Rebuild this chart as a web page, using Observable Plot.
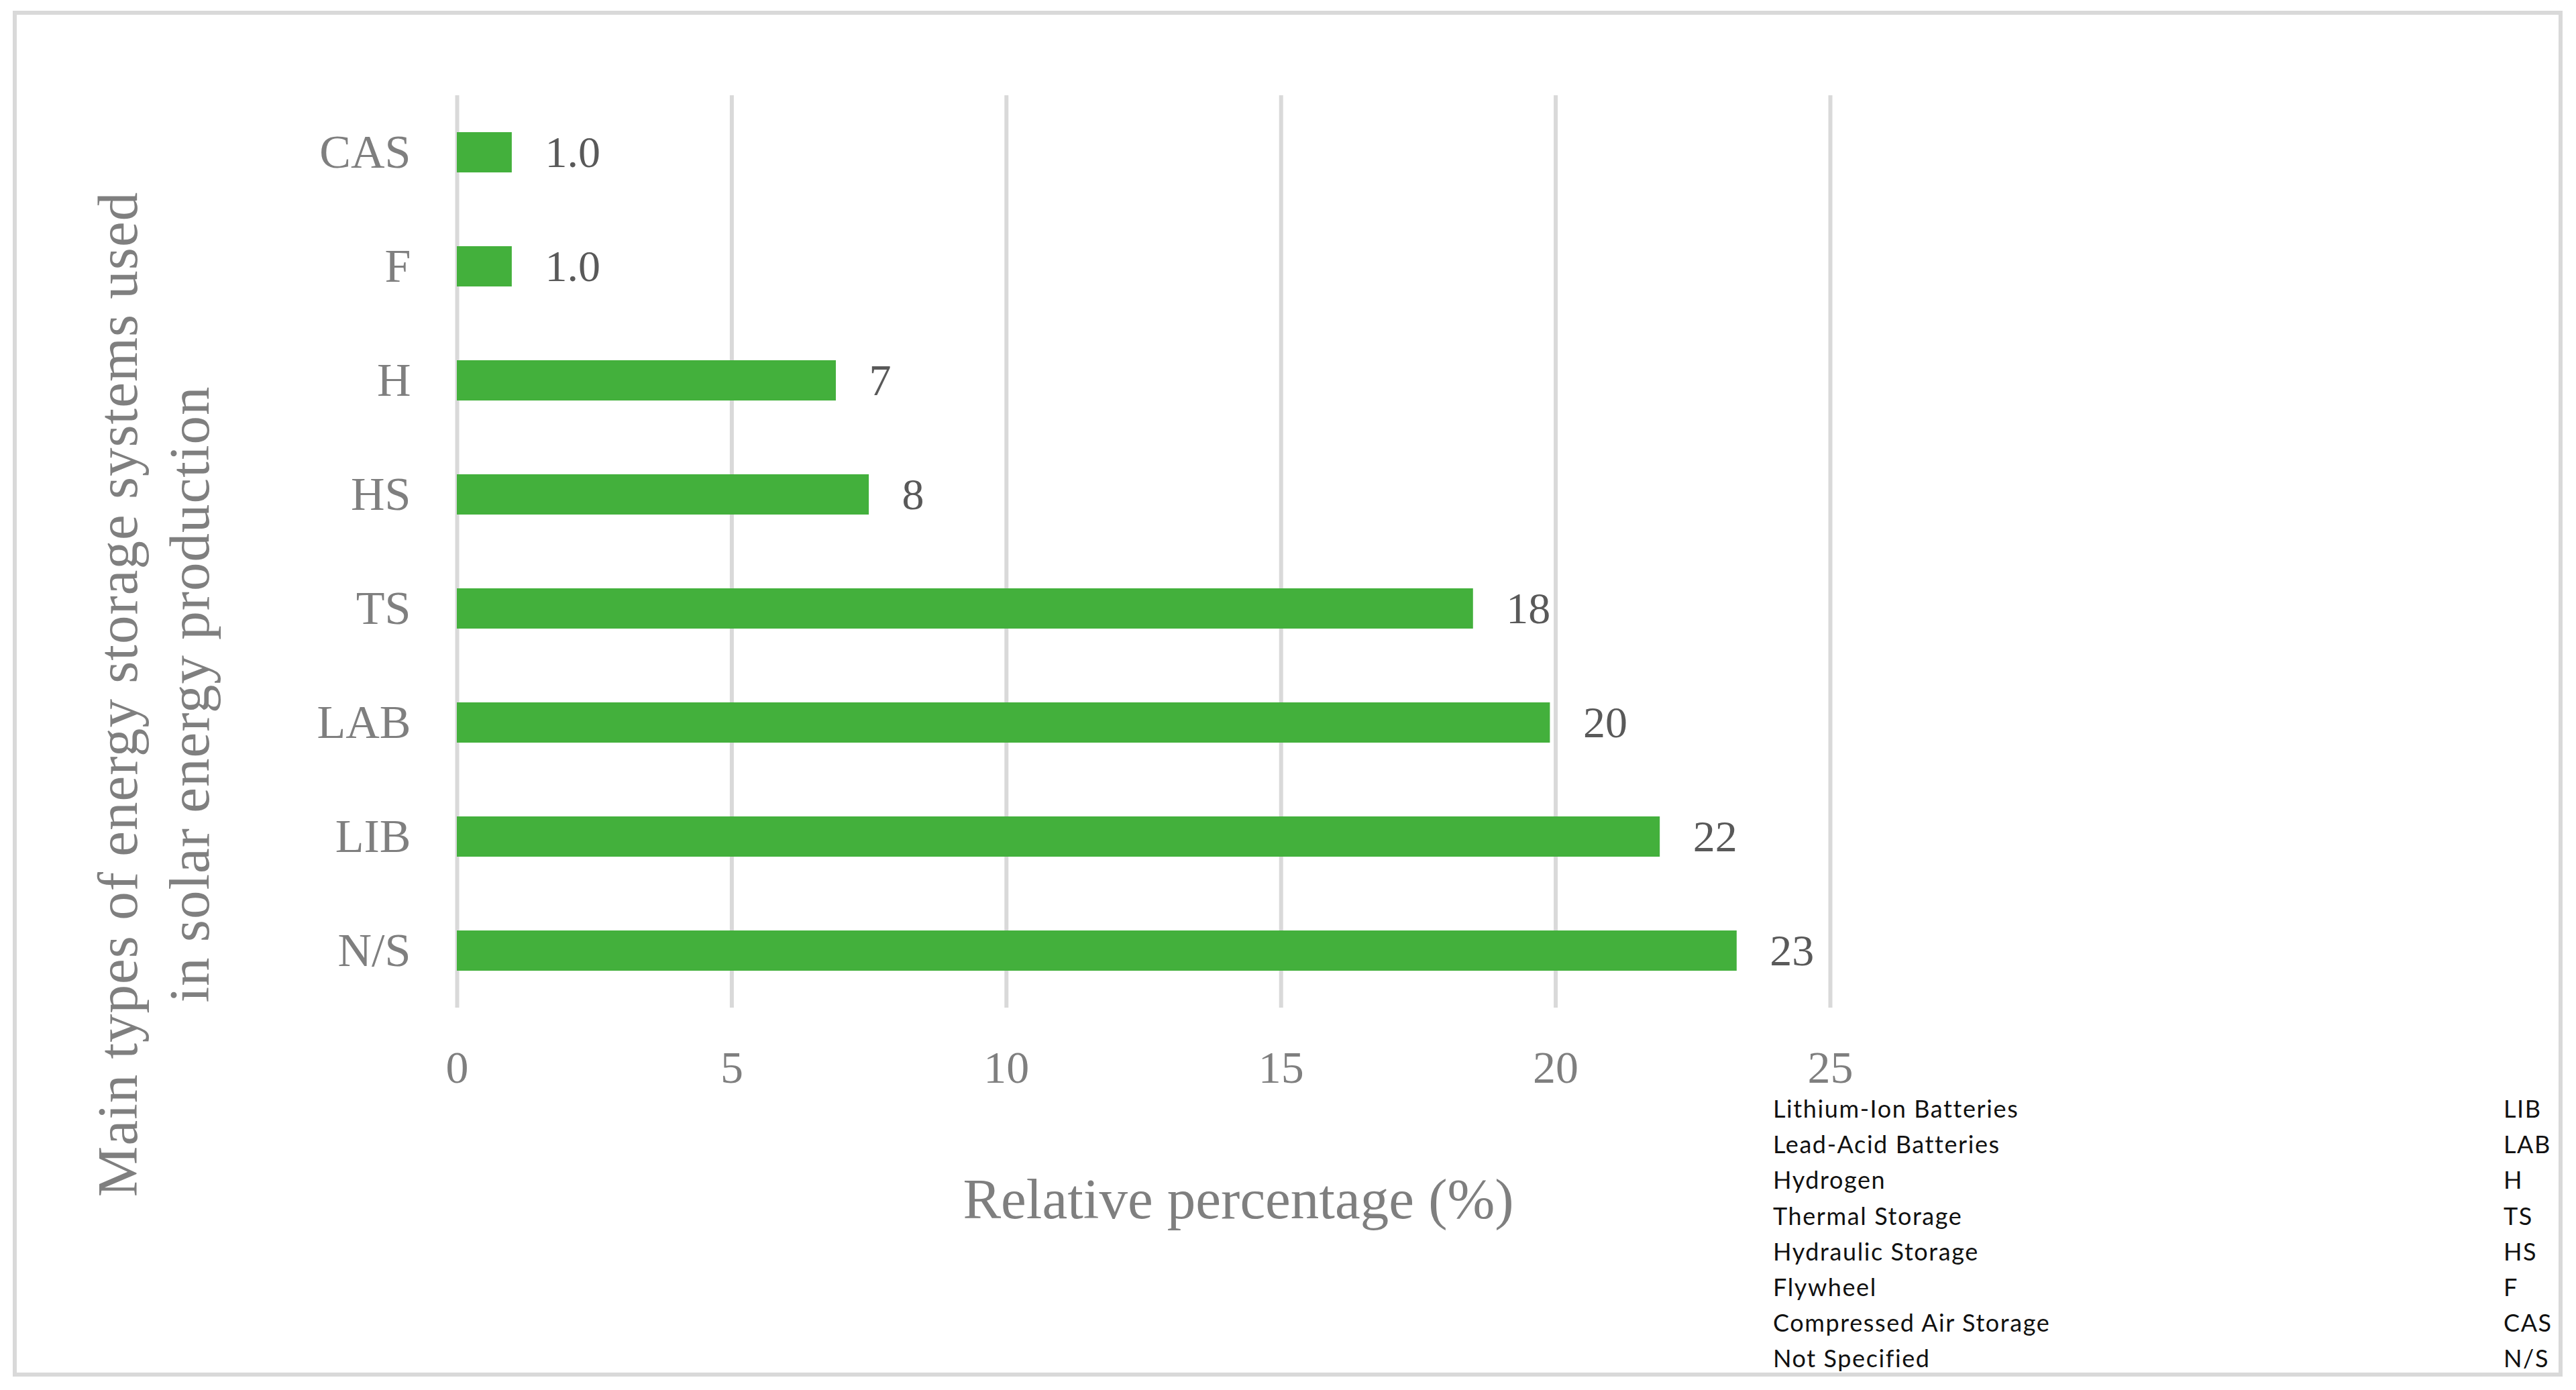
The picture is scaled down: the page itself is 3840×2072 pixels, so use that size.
<!DOCTYPE html>
<html>
<head>
<meta charset="utf-8">
<script src="https://cdn.jsdelivr.net/npm/d3@7"></script>
<script src="https://cdn.jsdelivr.net/npm/@observablehq/plot@0.6"></script>
<style>
  html, body { margin: 0; padding: 0; background: #ffffff; }
  #wrap { position: relative; width: 3840px; height: 2072px; overflow: hidden; background: #ffffff; }
  #frame { position: absolute; left: 19px; top: 16px; width: 3801px; height: 2036px; box-sizing: border-box; border: 6px solid #d9d9d9; }
  #chart { position: absolute; left: 0; top: 0; }
  .serif { font-family: 'Liberation Serif', 'Times New Roman', serif; color: #7f7f7f; }
  #xtitle { position: absolute; left: 1246px; top: 1745px; width: 1200px; text-align: center; font-size: 85px; line-height: 84px; white-space: nowrap; }
  #ytitle { position: absolute; left: -671px; top: 928px; width: 1800px; height: 214px; text-align: center; font-size: 85px; line-height: 107px; letter-spacing: 1px; white-space: nowrap; transform: rotate(-90deg); }
  #legend { position: absolute; left: 0; top: 0; font-family: Lato, 'Open Sans', sans-serif; font-size: 36px; letter-spacing: 1.6px; color: #111111; }
  .lrow { position: absolute; white-space: nowrap; line-height: 26px; }
</style>
</head>
<body>
<div id="wrap">
  <div id="frame"></div>
  <div id="chart"></div>
  <div id="xtitle" class="serif"></div>
  <div id="ytitle" class="serif"></div>
  <div id="legend"></div>
</div>
<script>
const categories = ["CAS", "F", "H", "HS", "TS", "LAB", "LIB", "N/S"];
const values = [1.0, 1.0, 6.9, 7.5, 18.5, 19.9, 21.9, 23.3];
const valueLabels = ["1.0", "1.0", "7", "8", "18", "20", "22", "23"];
const xTicks = [0, 5, 10, 15, 20, 25];
const xTitle = "Relative percentage (%)";
const yTitleLines = ["Main types of energy storage systems used", "in solar energy production"];
const legendNames = ["Lithium-Ion Batteries", "Lead-Acid Batteries", "Hydrogen", "Thermal Storage", "Hydraulic Storage", "Flywheel", "Compressed Air Storage", "Not Specified"];
const legendAbbr = ["LIB", "LAB", "H", "TS", "HS", "F", "CAS", "N/S"];

const data = categories.map((c, i) => ({cat: c, value: values[i], label: valueLabels[i]}));

const chart = Plot.plot({
  width: 3840,
  height: 2072,
  marginLeft: 681,
  marginRight: 1112,
  marginTop: 142,
  marginBottom: 570,
  x: {domain: [0, 25]},
  y: {domain: categories, paddingInner: 0.645, paddingOuter: 0.3225},
  style: {
    fontFamily: "'Liberation Serif', 'Times New Roman', serif",
    fontSize: "68px",
    color: "#7f7f7f",
    background: "transparent",
    overflow: "visible"
  },
  marks: [
    Plot.ruleX(xTicks, {stroke: "#d9d9d9", strokeWidth: 6}),
    Plot.barX(data, {x: "value", y: "cat", fill: "#43b03c"}),
    Plot.text(data, {x: "value", y: "cat", text: "label", dx: 49, textAnchor: "start", fontSize: 66, fill: "#595959"}),
    Plot.axisX({ticks: xTicks, tickSize: 0, tickPadding: 63, label: null, fontSize: 68, fill: "#7f7f7f"}),
    Plot.axisY({tickSize: 0, tickPadding: 69, label: null, fontSize: 70, fill: "#7f7f7f"})
  ]
});
document.getElementById("chart").appendChild(chart);

document.getElementById("xtitle").textContent = xTitle;
const yt = document.getElementById("ytitle");
yTitleLines.forEach(line => {
  const d = document.createElement("div");
  d.textContent = line;
  yt.appendChild(d);
});

const legend = document.getElementById("legend");
const rowH = 53.2;
const firstBaseline = 1665;
legendNames.forEach((name, i) => {
  const top = (firstBaseline - 26 + i * rowH) + "px";
  const a = document.createElement("div");
  a.className = "lrow";
  a.style.left = "2643px";
  a.style.top = top;
  a.textContent = name;
  legend.appendChild(a);
  const b = document.createElement("div");
  b.className = "lrow";
  b.style.left = "3732px";
  b.style.top = top;
  b.textContent = legendAbbr[i];
  legend.appendChild(b);
});
</script>
</body>
</html>
